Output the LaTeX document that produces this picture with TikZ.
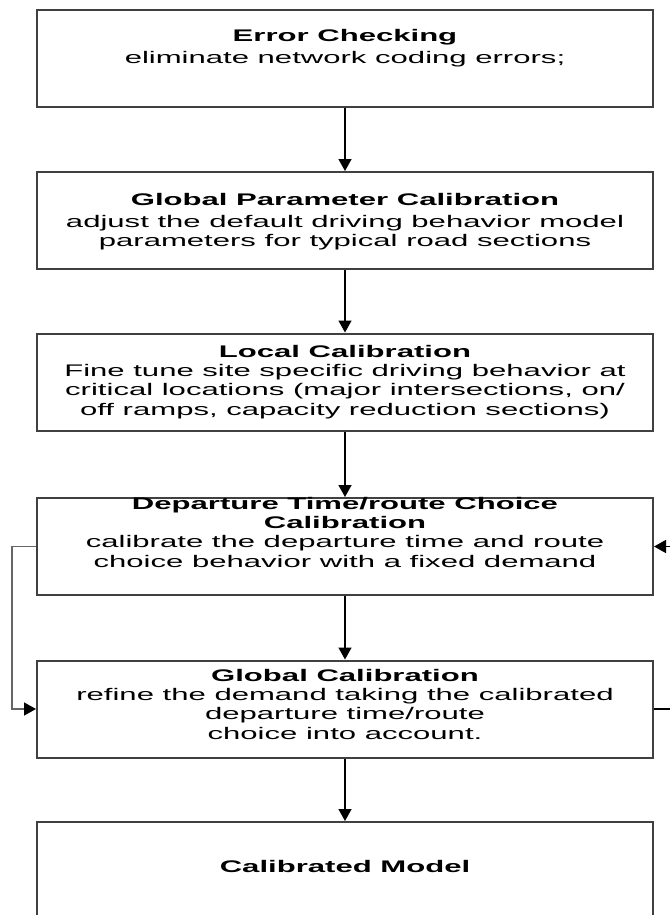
\documentclass[tikz,border=0pt]{standalone}
\usepackage{fontspec}
\setmainfont{Liberation Sans}
\usetikzlibrary{arrows.meta}

\tikzset{
  box/.style={draw=black!75, line width=1pt, minimum width=308pt, minimum height=48.5pt, inner sep=0pt},
  txt/.style={anchor=north, align=center, inner sep=0pt, xscale=1.85, font=\fontsize{8.4}{9.6}\selectfont},
  flow/.style={-{Triangle[length=6pt,width=6.5pt,black]}, line width=0.75pt},
}

\begin{document}
\begin{tikzpicture}[x=0.5pt,y=-0.5pt]
	\useasboundingbox (0,0) rectangle (669,915);
	\def\cx{345}
	
	% boxes
	\node[box] (err)  at (\cx,58.5)  {};
	\node[box] (gpc)  at (\cx,220.5) {};
	\node[box] (loc)  at (\cx,382)   {};
	\node[box] (dep)  at (\cx,546.5) {};
	\node[box] (glob) at (\cx,709)   {};
	\node[box, minimum height=50pt] (cal) at (\cx,872) {};
	
	% texts
	\node[txt] (errt) at (\cx,29) {\textbf{Error Checking}\\[1.2pt]eliminate network coding errors;};
	\node[txt] (gpct) at (\cx,193) {\textbf{Global Parameter Calibration}\\[1.2pt]adjust the default driving behavior model\\parameters for typical road sections};
	\node[txt] (loct) at (\cx,345) {\textbf{Local Calibration}\\Fine tune site specific driving behavior at\\critical locations (major intersections, on/\\off ramps, capacity reduction sections)};
	\node[txt] (dept) at (\cx,497) {\textbf{Departure Time/route Choice}\\\textbf{Calibration}\\calibrate the departure time and route\\choice behavior with a fixed demand};
	\node[txt] (globt) at (\cx,669) {\textbf{Global Calibration}\\refine the demand taking the calibrated\\departure time/route\\choice into account.};
	\node[txt, anchor=center] (calt) at (\cx,866) {\textbf{Calibrated Model}};
	
	% main flow
	\draw[flow] (err) -- (gpc);
	\draw[flow] (gpc) -- (loc);
	\draw[flow] (loc) -- (dep);
	\draw[flow] (dep) -- (glob);
	\draw[flow] (glob) -- (cal);
	
	% feedback loops
	\draw[flow, draw=black!60] (dep.west) -- ++(-24,0) |- (glob.west);
	\draw[flow] (glob.east) -- ++(30,0) |- (dep.east);
\end{tikzpicture}
\end{document}
